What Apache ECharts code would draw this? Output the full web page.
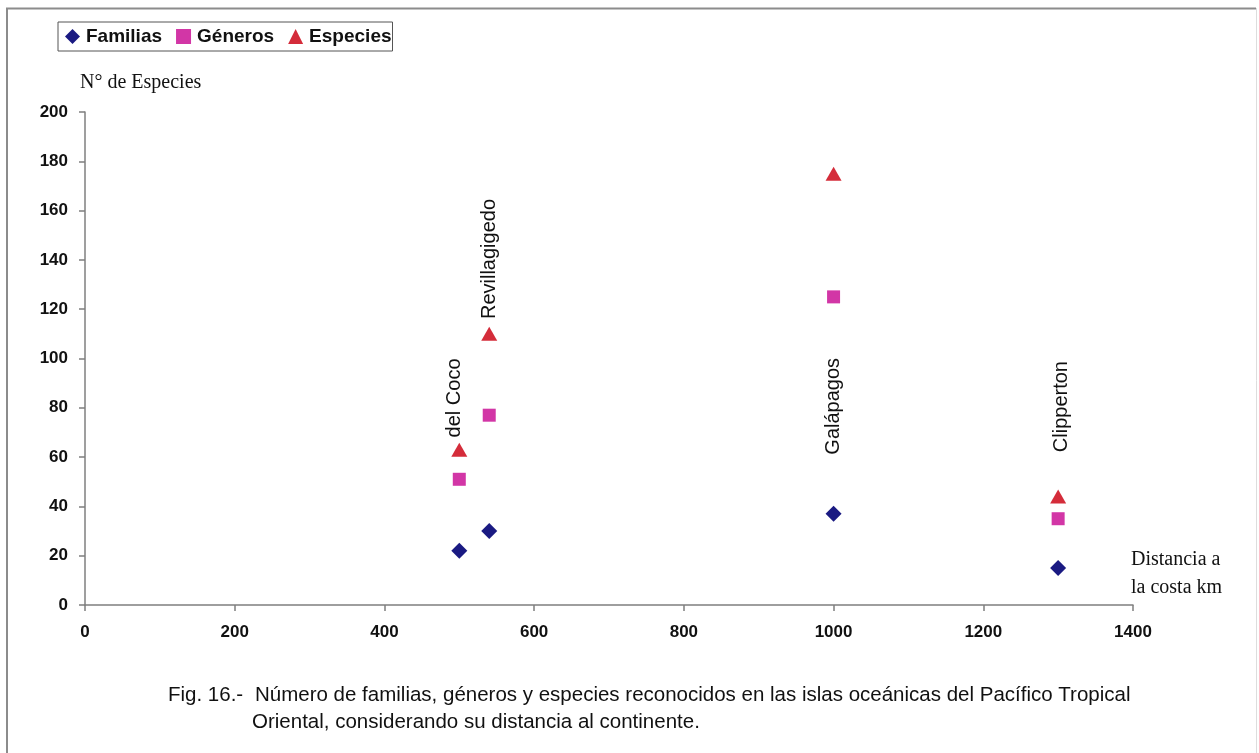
<!DOCTYPE html>
<html>
<head>
<meta charset="utf-8">
<title>Pacífico Tropical Oriental</title>
<script src="https://cdn.jsdelivr.net/npm/echarts@6/dist/echarts.min.js"></script>
<style>
  html, body { margin: 0; padding: 0; background: #ffffff; }
  #chart { width: 1259px; height: 753px; }
</style>
</head>
<body>
<div id="chart"></div>
<script>
// Islands, their distance to the mainland (km) and counts per taxonomic level
const islands = ['del Coco', 'Revillagigedo', 'Galápagos', 'Clipperton'];
const distanceKm = [500, 540, 1000, 1300];
const familias = [22, 30, 37, 15];
const generos = [51, 77, 125, 35];
const especies = [63, 110, 175, 44];

// Axis ticks
const xTicks = [0, 200, 400, 600, 800, 1000, 1200, 1400];
const yTicks = [0, 20, 40, 60, 80, 100, 120, 140, 160, 180, 200];

// Height (in axis units) at which each island name starts, and a small pixel nudge
const islandLabelBase = [68, 116, 61, 62];
const islandLabelNudge = [-5, 0, 0, 3];

const SANS = '"Liberation Sans", Arial, sans-serif';
const SERIF = '"Liberation Serif", "Times New Roman", serif';

const colors = {
  familias: '#1a1a82',
  generos: '#d236a6',
  especies: '#d42c3a'
};

function pairs(values) {
  return distanceKm.map((d, i) => [d, values[i]]);
}

const chart = echarts.init(document.getElementById('chart'), null, { renderer: 'canvas' });

const tickLabel = { fontFamily: SANS, fontSize: 17, fontWeight: 'bold', color: '#111111' };

const option = {
  backgroundColor: '#ffffff',
  animation: false,
  legend: {
    left: 58,
    top: 22,
    orient: 'horizontal',
    itemWidth: 15,
    itemHeight: 15,
    itemGap: 14,
    padding: [5, 1, 5, 7],
    borderColor: '#555555',
    borderWidth: 1,
    textStyle: { fontFamily: SANS, fontSize: 19, fontWeight: 'bold', color: '#111111', padding: [0, 0, 0, 1] },
    data: [
      { name: 'Familias', icon: 'diamond' },
      { name: 'Géneros', icon: 'rect' },
      { name: 'Especies', icon: 'triangle' }
    ]
  },
  grid: { left: 85, right: 126, top: 112, bottom: 148, containLabel: false },
  xAxis: {
    type: 'value',
    min: xTicks[0],
    max: xTicks[xTicks.length - 1],
    interval: xTicks[1] - xTicks[0],
    axisLine: { show: true, lineStyle: { color: '#7f7f7f', width: 1.5 } },
    axisTick: { show: true, inside: false, length: 6, lineStyle: { color: '#7f7f7f', width: 1.5 } },
    splitLine: { show: false },
    axisLabel: Object.assign({ margin: 19, formatter: v => String(v) }, tickLabel)
  },
  yAxis: {
    type: 'value',
    min: yTicks[0],
    max: yTicks[yTicks.length - 1],
    interval: yTicks[1] - yTicks[0],
    axisLine: { show: true, lineStyle: { color: '#7f7f7f', width: 1.5 } },
    axisTick: { show: true, inside: false, length: 6, lineStyle: { color: '#7f7f7f', width: 1.5 } },
    splitLine: { show: false },
    axisLabel: Object.assign({ margin: 17, formatter: v => String(v) }, tickLabel)
  },
  series: [
    {
      name: 'Familias', type: 'scatter', symbol: 'diamond', symbolSize: 16,
      itemStyle: { color: colors.familias, opacity: 1 }, data: pairs(familias)
    },
    {
      name: 'Géneros', type: 'scatter', symbol: 'rect', symbolSize: 13,
      itemStyle: { color: colors.generos, opacity: 1 }, data: pairs(generos)
    },
    {
      name: 'Especies', type: 'scatter', symbol: 'triangle', symbolSize: [16, 14],
      itemStyle: { color: colors.especies, opacity: 1 }, data: pairs(especies)
    }
  ]
};

chart.setOption(option);

// Figure frame, axis titles, island names and caption
function drawGraphics() {
  const elements = [];

  elements.push({
    type: 'polyline', silent: true,
    shape: { points: [[7, 753], [7, 8.5], [1256, 8.5]] },
    style: { stroke: '#8c8c8c', lineWidth: 2, fill: null }
  });
  elements.push({
    type: 'line', silent: true,
    shape: { x1: 1256.5, y1: 8, x2: 1256.5, y2: 753 },
    style: { stroke: '#dddddd', lineWidth: 1 }
  });

  elements.push({
    type: 'text', left: 80, top: 73,
    style: { text: 'N° de Especies', font: '20px ' + SERIF, fill: '#111111' }
  });

  elements.push({
    type: 'text', left: 1131, top: 546,
    style: {
      text: 'Distancia a\nla costa km', font: '20px ' + SERIF, fill: '#111111',
      lineHeight: 28
    }
  });

  islands.forEach((name, i) => {
    const p = chart.convertToPixel({ gridIndex: 0 }, [distanceKm[i], islandLabelBase[i]]);
    elements.push({
      type: 'text',
      x: p[0] + islandLabelNudge[i],
      y: p[1],
      rotation: Math.PI / 2,
      style: {
        text: name, font: '20px ' + SANS, fill: '#111111',
        align: 'left', verticalAlign: 'middle'
      }
    });
  });

  const captionFont = '20.5px ' + SANS;
  elements.push({
    type: 'text', left: 168, top: 685,
    style: { text: 'Fig. 16.-', font: captionFont, fill: '#111111' }
  });
  elements.push({
    type: 'text', left: 255, top: 685,
    style: {
      text: 'Número de familias, géneros y especies reconocidos en las islas oceánicas del Pacífico Tropical',
      font: captionFont, fill: '#111111'
    }
  });
  elements.push({
    type: 'text', left: 252, top: 712,
    style: {
      text: 'Oriental, considerando su distancia al continente.',
      font: captionFont, fill: '#111111'
    }
  });

  chart.setOption({ graphic: elements });
}

drawGraphics();
</script>
</body>
</html>
